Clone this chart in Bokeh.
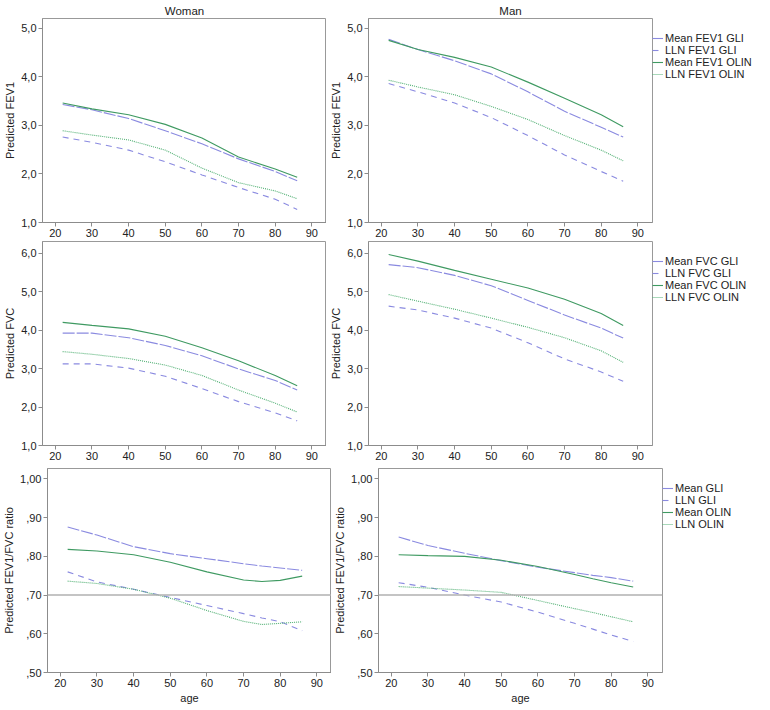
from bokeh.plotting import figure
from bokeh.layouts import column, row
from bokeh.models import Range1d, FixedTicker, Legend, LegendItem, Span
from bokeh.embed import file_html
from bokeh.resources import INLINE

# ---------------- data ----------------
ages = [22, 30, 40, 50, 60, 70, 80, 86]
ages_ratio = [22, 30, 40, 50, 60, 70, 75, 80, 86]

# Woman FEV1
w_fev1_mean_gli = [3.43, 3.32, 3.14, 2.89, 2.62, 2.31, 2.05, 1.86]
w_fev1_lln_gli = [2.76, 2.65, 2.49, 2.25, 1.98, 1.72, 1.48, 1.27]
w_fev1_mean_olin = [3.46, 3.34, 3.22, 3.02, 2.74, 2.35, 2.10, 1.93]
w_fev1_lln_olin = [2.89, 2.80, 2.70, 2.49, 2.12, 1.82, 1.65, 1.49]
# Man FEV1
m_fev1_mean_gli = [4.77, 4.56, 4.33, 4.06, 3.69, 3.29, 2.96, 2.76]
m_fev1_lln_gli = [3.86, 3.69, 3.46, 3.16, 2.79, 2.39, 2.05, 1.85]
m_fev1_mean_olin = [4.75, 4.56, 4.40, 4.20, 3.89, 3.56, 3.22, 2.97]
m_fev1_lln_olin = [3.93, 3.79, 3.63, 3.39, 3.12, 2.79, 2.49, 2.27]
# Woman FVC
w_fvc_mean_gli = [3.92, 3.92, 3.80, 3.60, 3.33, 2.99, 2.69, 2.44]
w_fvc_lln_gli = [3.12, 3.12, 3.01, 2.80, 2.48, 2.14, 1.85, 1.64]
w_fvc_mean_olin = [4.20, 4.12, 4.03, 3.84, 3.54, 3.20, 2.82, 2.55]
w_fvc_lln_olin = [3.44, 3.37, 3.26, 3.09, 2.82, 2.44, 2.10, 1.87]
# Man FVC
m_fvc_mean_gli = [5.70, 5.62, 5.42, 5.15, 4.77, 4.39, 4.05, 3.79]
m_fvc_lln_gli = [4.62, 4.52, 4.31, 4.05, 3.67, 3.25, 2.91, 2.67]
m_fvc_mean_olin = [5.96, 5.79, 5.55, 5.32, 5.09, 4.80, 4.43, 4.12]
m_fvc_lln_olin = [4.92, 4.75, 4.54, 4.31, 4.07, 3.80, 3.46, 3.16]
# Woman FEV1/FVC
w_ratio_mean_gli = [0.876, 0.855, 0.825, 0.807, 0.794, 0.781, 0.775, 0.770, 0.764]
w_ratio_lln_gli = [0.760, 0.734, 0.715, 0.694, 0.673, 0.652, 0.641, 0.631, 0.608]
w_ratio_mean_olin = [0.818, 0.814, 0.804, 0.785, 0.760, 0.739, 0.735, 0.738, 0.749]
w_ratio_lln_olin = [0.736, 0.730, 0.715, 0.692, 0.660, 0.632, 0.624, 0.627, 0.631]
# Man FEV1/FVC
m_ratio_mean_gli = [0.850, 0.828, 0.808, 0.789, 0.772, 0.758, 0.751, 0.745, 0.736]
m_ratio_lln_gli = [0.732, 0.720, 0.700, 0.682, 0.656, 0.627, 0.612, 0.597, 0.580]
m_ratio_mean_olin = [0.804, 0.802, 0.800, 0.790, 0.774, 0.753, 0.742, 0.732, 0.721]
m_ratio_lln_olin = [0.722, 0.718, 0.713, 0.707, 0.686, 0.665, 0.655, 0.644, 0.631]

x_ticks = [20, 30, 40, 50, 60, 70, 80, 90]
fev1_ticks = [1.0, 2.0, 3.0, 4.0, 5.0]
fev1_labels = ["1,0", "2,0", "3,0", "4,0", "5,0"]
fvc_ticks = [1.0, 2.0, 3.0, 4.0, 5.0, 6.0]
fvc_labels = ["1,0", "2,0", "3,0", "4,0", "5,0", "6,0"]
ratio_ticks = [0.5, 0.6, 0.7, 0.8, 0.9, 1.0]
ratio_labels = [",50", ",60", ",70", ",80", ",90", "1,00"]
ratio_cutoff = 0.70

# ---------------- style ----------------
FONT = "Liberation Sans"
BLUE = "#8a8ae0"
GREEN = "#3f9a62"
GREEN_L = "#52b074"
GRAY = "#8c8c8c"
FW, FH = 284, 204
BL = 42

STYLES = [
    dict(color=BLUE, dash="12 2"),
    dict(color=BLUE, dash="6 5"),
    dict(color=GREEN, dash="solid"),
    dict(color=GREEN_L, dash="1 1"),
]


def make_fig(title, ylabel, yr, yt, yl, xs, series, labels, legend, xlabel, top):
    p = figure(frame_width=FW, frame_height=FH, output_backend="svg", toolbar_location=None,
               x_range=Range1d(16.5, 94), y_range=Range1d(*yr),
               min_border_left=BL, min_border_right=0, min_border_top=top, min_border_bottom=0)
    if title:
        p.title.text = title
        p.title.align = "center"
        p.title.text_font = FONT
        p.title.text_font_size = "11.5px"
        p.title.text_font_style = "normal"
        p.title.text_color = "#222222"
        p.title.standoff = 4
    p.grid.visible = False
    p.outline_line_color = "#999999"
    p.background_fill_color = "white"
    for ax in (p.xaxis[0], p.yaxis[0]):
        ax.axis_line_color = GRAY
        ax.major_tick_line_color = GRAY
        ax.minor_tick_line_color = None
        ax.major_tick_in = 0
        ax.major_tick_out = 4
        ax.major_label_text_font = FONT
        ax.major_label_text_font_size = "11px"
        ax.major_label_text_color = "#222222"
        ax.major_label_standoff = 2
        ax.axis_label_text_font = FONT
        ax.axis_label_text_font_size = "11px"
        ax.axis_label_text_font_style = "normal"
        ax.axis_label_text_color = "#222222"
        ax.axis_label_standoff = 2
    p.xaxis.ticker = FixedTicker(ticks=x_ticks)
    p.yaxis.ticker = FixedTicker(ticks=yt)
    p.yaxis.major_label_overrides = {t: l for t, l in zip(yt, yl)}
    p.yaxis.axis_label = ylabel
    if xlabel:
        p.xaxis.axis_label = xlabel
    if yr[0] < ratio_cutoff < yr[1] and yr[1] < 2:
        p.add_layout(Span(location=ratio_cutoff, dimension="width", line_color="#b0b0b0", line_width=1.5))
    rends = []
    for ys, st in zip(series, STYLES):
        r = p.line(xs, ys, line_color=st["color"], line_dash=st["dash"], line_width=1.1)
        rends.append(r)
    if legend:
        items = [LegendItem(label=l, renderers=[r]) for l, r in zip(labels, rends)]
        lg = Legend(items=items, location=(0, FH - 62), margin=0, padding=0, spacing=0,
                    glyph_width=11, glyph_height=12, label_height=12, label_standoff=2,
                    label_text_font=FONT, label_text_font_size="11px", label_text_color="#222222",
                    border_line_color=None, background_fill_alpha=0)
        p.add_layout(lg, "right")
    return p


p1 = make_fig("Woman", "Predicted FEV1", (1.0, 5.2), fev1_ticks, fev1_labels, ages,
              [w_fev1_mean_gli, w_fev1_lln_gli, w_fev1_mean_olin, w_fev1_lln_olin], None, False, None, 2)
p2 = make_fig("Man", "Predicted FEV1", (1.0, 5.2), fev1_ticks, fev1_labels, ages,
              [m_fev1_mean_gli, m_fev1_lln_gli, m_fev1_mean_olin, m_fev1_lln_olin],
              ["Mean FEV1 GLI", "LLN FEV1 GLI", "Mean FEV1 OLIN", "LLN FEV1 OLIN"], True, None, 2)
p3 = make_fig(None, "Predicted FVC", (1.0, 6.3), fvc_ticks, fvc_labels, ages,
              [w_fvc_mean_gli, w_fvc_lln_gli, w_fvc_mean_olin, w_fvc_lln_olin], None, False, None, 2)
p4 = make_fig(None, "Predicted FVC", (1.0, 6.3), fvc_ticks, fvc_labels, ages,
              [m_fvc_mean_gli, m_fvc_lln_gli, m_fvc_mean_olin, m_fvc_lln_olin],
              ["Mean FVC GLI", "LLN FVC GLI", "Mean FVC OLIN", "LLN FVC OLIN"], True, None, 2)
p5 = make_fig(None, "Predicted FEV1/FVC ratio", (0.5, 1.027), ratio_ticks, ratio_labels, ages_ratio,
              [w_ratio_mean_gli, w_ratio_lln_gli, w_ratio_mean_olin, w_ratio_lln_olin], None, False, "age", 6)
p6 = make_fig(None, "Predicted FEV1/FVC ratio", (0.5, 1.027), ratio_ticks, ratio_labels, ages_ratio,
              [m_ratio_mean_gli, m_ratio_lln_gli, m_ratio_mean_olin, m_ratio_lln_olin],
              ["Mean GLI", "LLN GLI", "Mean OLIN", "LLN OLIN"], True, "age", 6)

layout = column(row(p1, p2, spacing=0), row(p3, p4, spacing=0), row(p5, p6, spacing=0), spacing=0)

open("out.html", "w").write(file_html(layout, INLINE))
